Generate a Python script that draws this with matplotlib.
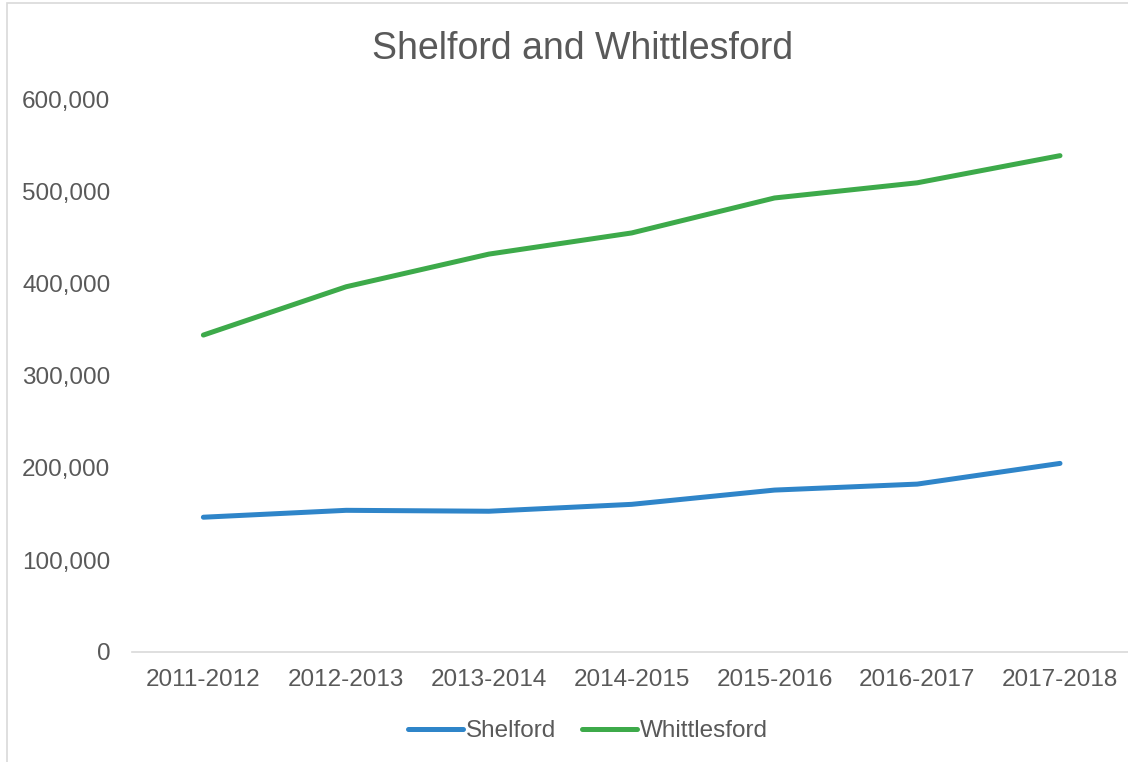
import matplotlib.pyplot as plt
from matplotlib.patches import Rectangle
from matplotlib.ticker import FuncFormatter

plt.rcParams['font.family'] = ['Liberation Sans', 'DejaVu Sans']

years = ["2011-2012", "2012-2013", "2013-2014", "2014-2015",
         "2015-2016", "2016-2017", "2017-2018"]
shelford = [146500, 154000, 153000, 160500, 176000, 182500, 205000]
whittlesford = [344500, 397000, 432500, 455500, 493500, 510000, 539500]

blue = "#2F85C9"
green = "#3DAA4A"
text_col = "#595959"

fig = plt.figure(figsize=(11.28, 7.62), dpi=100)
ax = fig.add_axes([132 / 1128, 1 - 652 / 762, 1 - 132 / 1128 + 0.003, (652 - 100) / 762])

x = list(range(len(years)))
ax.plot(x, shelford, color=blue, lw=3.6, solid_capstyle='round', label="Shelford")
ax.plot(x, whittlesford, color=green, lw=3.6, solid_capstyle='round', label="Whittlesford")

ax.set_xlim(-0.5, len(years) - 0.5)
ax.set_ylim(0, 600000)
ax.set_yticks(range(0, 600001, 100000))
ax.yaxis.set_major_formatter(FuncFormatter(lambda v, p: f"{int(v):,}"))
ax.set_xticks(x)
ax.set_xticklabels(years)
ax.tick_params(axis='both', length=0, labelsize=17.5, labelcolor=text_col)
ax.tick_params(axis='y', pad=15.5)
ax.tick_params(axis='x', pad=12)

for s in ['top', 'right', 'left']:
    ax.spines[s].set_visible(False)
ax.spines['bottom'].set_color("#D9D9D9")
ax.spines['bottom'].set_linewidth(1.2)

fig.text(583 / 1128, 1 - 49 / 762, "Shelford and Whittlesford", ha='center', va='center',
         fontsize=27, color=text_col)

leg = fig.legend(loc='center', bbox_to_anchor=(588 / 1128, 1 - 731 / 762), ncol=2,
                 frameon=False, fontsize=17.5, handlelength=2.25, handletextpad=0.1,
                 columnspacing=1.1)
for t in leg.get_texts():
    t.set_color(text_col)

fig.patches.append(Rectangle((7 / 1128, -0.01), 1.0, 1 - 3 / 762 + 0.01,
                             transform=fig.transFigure, fill=False,
                             edgecolor="#D9D9D9", lw=1.2))

fig.savefig("out.png", dpi=100)
